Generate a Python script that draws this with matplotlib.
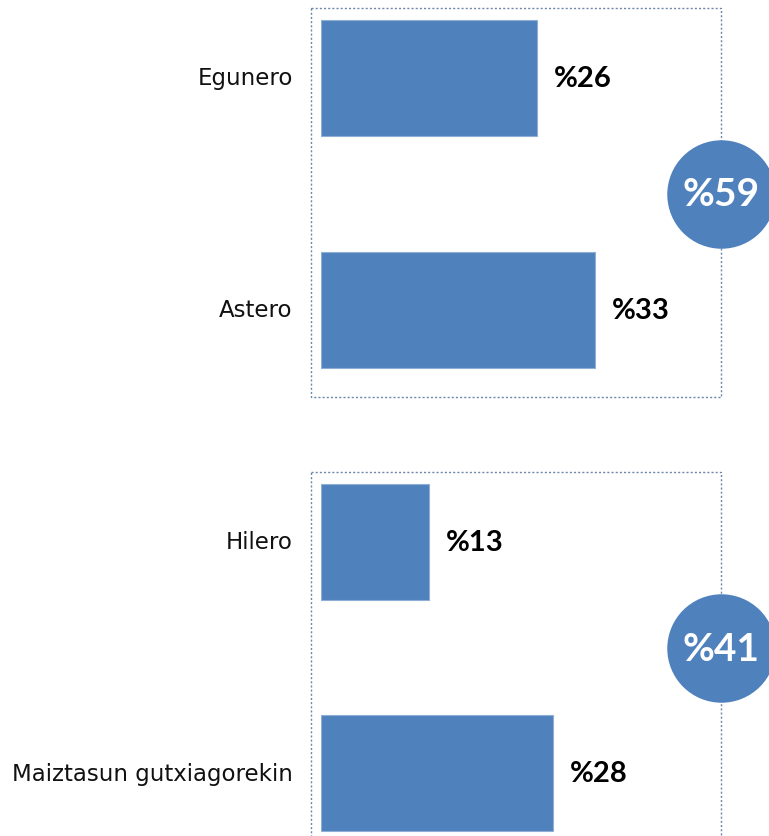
import numpy as np
import matplotlib.pyplot as plt

categories = ['Egunero', 'Astero', 'Hilero', 'Maiztasun gutxiagorekin']
values = [26, 33, 13, 28]
groups = [[0, 1], [2, 3]]
group_totals = [59, 41]

blue = '#4F81BD'
box_col = '#6F87AA'

plt.rcParams['font.family'] = ['Lato', 'DejaVu Sans']

fig = plt.figure(figsize=(7.69, 8.37), dpi=100)
# x=0 sits at 321 px, ~8.3 px per percent point
ax = fig.add_axes([321 / 769, 0, 448 / 769, 1])
ax.set_xlim(0, 448 / 8.3)
ax.set_ylim(3.27, -0.34)
ax.axis('off')

y = np.arange(len(categories))
ax.barh(y, values, height=0.5, color=blue, edgecolor='#8FAFD6', linewidth=0.8)

for yi, v, cat in zip(y, values, categories):
    ax.text(v + 2.0, yi, '%' + str(v), va='center', ha='left',
            fontsize=21, fontweight='bold', color='black')
    ax.text(-3.4, yi, cat, va='center', ha='right', fontsize=16.5,
            color='#111111', family='DejaVu Sans')

box_right = 48.2
for grp, tot in zip(groups, group_totals):
    top = grp[0] - 0.30
    bottom = grp[-1] + 0.375
    ax.plot([-1.2, box_right, box_right, -1.2, -1.2],
            [top, top, bottom, bottom, top],
            ls=(0, (1.5, 1.5)), lw=1, color=box_col, clip_on=False)
    ymid = (grp[0] + grp[-1]) / 2 - (0.04 if grp[0] == 2 else 0)
    ax.scatter([box_right], [ymid], s=6100, color=blue, zorder=5, clip_on=False,
               linewidths=0)
    ax.text(box_right, ymid, '%' + str(tot), va='center', ha='center',
            fontsize=28, fontweight='bold', color='white', zorder=6)

fig.savefig('out.png', dpi=100)
